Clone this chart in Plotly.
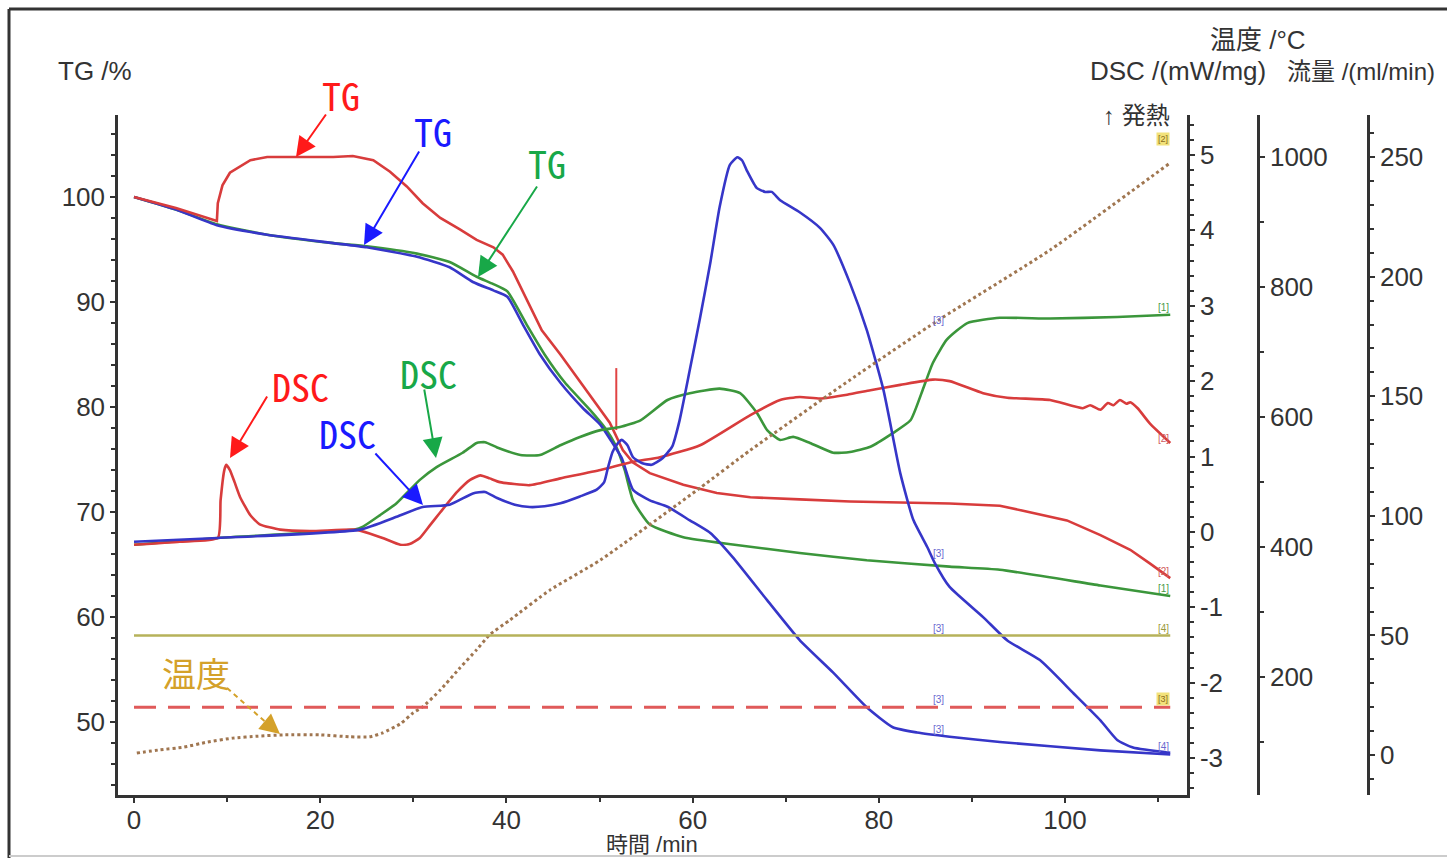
import plotly.graph_objects as go

# ---------------- data ----------------
# TG curves (time /min, TG /%)
tg_red_t = [0, 4.5, 8.9, 9.0, 9.5, 10.3, 12.5, 14.3, 17.8, 21.4, 23.5, 25.7, 27.5, 29.3, 31.0, 32.9, 35.0, 36.8,
            38.6, 39.6, 40.7, 42.2, 43.8, 45.8, 47.9, 49.5, 51.1, 52.5, 53.6, 55.4, 59.0, 62.6, 66.2, 71.5, 76.9,
            82.3, 87.6, 93.0, 97.3, 100.2, 103.8, 107.0, 109.1, 111.3]
tg_red_v = [100, 98.95, 97.7, 99.4, 101.1, 102.3, 103.5, 103.8, 103.8, 103.8, 103.9, 103.5, 102.4, 101.0, 99.4, 98.0,
            96.9, 95.9, 95.2, 94.5, 92.9, 90.2, 87.3, 85.0, 82.4, 80.5, 78.5, 75.9, 74.7, 73.7, 72.6, 71.8, 71.4, 71.2,
            71.0, 70.9, 70.8, 70.6, 69.8, 69.2, 67.8, 66.4, 65.1, 63.7]

tg_blue_t = [0, 4.5, 8.9, 14.3, 21.4, 25.0, 30.4, 33.9, 36.4, 38.6, 40.1, 41.8, 43.6, 45.8, 48.2, 50.1, 51.3, 52.4,
             53.6, 55.4, 57.3, 59.7, 61.9, 64.3, 68.0, 71.5, 75.1, 78.7, 81.5, 84.1, 87.6, 93.0, 103.8, 111.3]
tg_blue_v = [100, 98.8, 97.3, 96.4, 95.6, 95.2, 94.3, 93.3, 91.9, 91.1, 90.5, 87.8, 85.0, 82.3, 79.9, 78.3, 76.7, 75.1,
             72.1, 71.1, 70.5, 69.2, 68.0, 65.7, 61.6, 57.8, 54.7, 51.4, 49.5, 49.0, 48.6, 48.1, 47.3, 46.9]

tg_green_t = [0, 4.5, 8.9, 14.3, 21.4, 25.0, 30.4, 33.9, 36.8, 38.6, 40.1, 42.2, 44.1, 46.3, 49.0, 50.6, 51.7, 52.7,
              53.6, 55.4, 59.0, 64.3, 71.5, 78.7, 87.6, 93.0, 103.8, 111.3]
tg_green_v = [100, 98.8, 97.4, 96.4, 95.6, 95.3, 94.6, 93.8, 92.4, 91.7, 91.0, 87.8, 85.0, 82.3, 79.7, 78.0, 76.4, 74.0,
              71.1, 68.8, 67.6, 66.9, 66.1, 65.4, 64.8, 64.5, 63.0, 62.0]

# DSC curves (time /min, DSC /(mW/mg))
dsc_red_t = [0, 4.9, 9.0, 9.3, 9.7, 9.9, 10.3, 10.8, 11.4, 12.5, 13.5, 15.7, 18.9, 23.7, 25.3, 26.7, 28.6, 29.6, 30.7,
             31.8, 32.9, 34.7, 36.1, 37.2, 38.2, 39.3, 42.5, 45.8, 50.1, 53.6, 56.5, 60.8, 66.2, 69.4, 71.5, 73.7,
             76.6, 79.1, 82.3, 85.8, 87.6, 91.2, 93.8, 98.4, 101.9, 102.7, 103.8, 104.6, 105.2, 105.9, 106.6, 107.0,
             107.8, 109.1, 111.3]
dsc_red_v = [-0.17, -0.13, -0.08, 0.42, 0.82, 0.89, 0.82, 0.66, 0.46, 0.22, 0.10, 0.03, 0.01, 0.03, -0.02, -0.08, -0.17,
             -0.16, -0.08, 0.09, 0.26, 0.53, 0.69, 0.75, 0.71, 0.66, 0.62, 0.71, 0.82, 0.93, 0.99, 1.15, 1.55, 1.75,
             1.79, 1.77, 1.82, 1.88, 1.95, 2.02, 2.00, 1.84, 1.78, 1.75, 1.64, 1.68, 1.62, 1.71, 1.68, 1.75, 1.70,
             1.72, 1.64, 1.44, 1.18]

dsc_green_t = [0, 9.0, 23.7, 24.6, 26.4, 28.2, 30.7, 32.5, 35.3, 36.8, 37.7, 39.0, 41.5, 43.6, 45.8, 47.9, 50.1, 52.2,
               54.4, 57.3, 59.7, 62.9, 65.1, 66.9, 68.0, 69.4, 70.8, 72.6, 75.1, 76.9, 79.1, 81.5, 83.4, 84.7, 85.8,
               87.3, 89.5, 93.0, 98.4, 105.6, 111.3]
dsc_green_v = [-0.17, -0.08, 0.03, 0.07, 0.22, 0.38, 0.69, 0.86, 1.05, 1.18, 1.19, 1.12, 1.02, 1.02, 1.15, 1.26, 1.35,
               1.39, 1.48, 1.75, 1.84, 1.90, 1.84, 1.58, 1.35, 1.22, 1.26, 1.18, 1.05, 1.06, 1.13, 1.31, 1.48, 1.88,
               2.24, 2.55, 2.77, 2.84, 2.83, 2.85, 2.88]

dsc_blue_t = [0, 9.0, 24.3, 28.2, 31.0, 33.9, 36.4, 37.7, 39.0, 40.9, 42.5, 44.1, 45.8, 47.9, 49.7, 50.5, 50.9, 51.4,
              52.0, 52.4, 53.0, 53.6, 54.6, 55.6, 56.7, 57.8, 58.6, 59.7, 60.8, 61.9, 62.9, 64.0, 64.8, 65.3, 65.8,
              66.9, 67.8, 68.5, 69.4, 71.5, 73.7, 75.1, 76.9, 78.7, 80.5, 82.3, 83.7, 85.2, 86.0, 87.6, 91.2, 93.8,
              97.3, 100.9, 103.8, 105.6, 107.3, 111.3]
dsc_blue_v = [-0.13, -0.08, 0.03, 0.20, 0.33, 0.36, 0.51, 0.53, 0.45, 0.36, 0.33, 0.34, 0.38, 0.47, 0.56, 0.66, 0.85,
              1.06, 1.18, 1.22, 1.15, 0.99, 0.91, 0.89, 0.97, 1.13, 1.48, 2.15, 2.84, 3.57, 4.31, 4.87, 4.97, 4.93,
              4.80, 4.56, 4.51, 4.51, 4.40, 4.24, 4.03, 3.81, 3.30, 2.68, 1.88, 0.78, 0.16, -0.20, -0.41, -0.73,
              -1.13, -1.44, -1.70, -2.14, -2.50, -2.76, -2.86, -2.93]

# Temperature (time /min, °C)
temp_t = [0.3, 2.8, 5.3, 7.9, 10.6, 13.3, 16.0, 20.0, 23.2, 25.3, 26.7, 28.6, 30.0, 31.0, 32.9, 35.0, 36.8, 38.2,
          40.4, 44.7, 50.1, 60.8, 66.2, 76.9, 86.4, 98.4, 111.3]
temp_v = [83, 88, 92, 100, 106, 109, 111, 111, 108, 108, 114, 128, 145, 154, 180, 214, 242, 265, 288, 334, 380, 491,
          549, 657, 749, 857, 991]

# Gas flow (time /min, ml/min)
flow_t = [0, 111.3]
flow_purge = [50, 50]
flow_protect = [20, 20]

# event marker (red vertical line) on TG axis
event_t = [51.8, 51.8]
event_tg = [77.8, 83.7]

# axis ticks
x_ticks = [0, 20, 40, 60, 80, 100]
tg_ticks = [50, 60, 70, 80, 90, 100]
dsc_ticks = [-3, -2, -1, 0, 1, 2, 3, 4, 5]
temp_ticks = [200, 400, 600, 800, 1000]
flow_ticks = [0, 50, 100, 150, 200, 250]

# ---------------- layout geometry ----------------
W, H = 1447, 858
ML, MR, MT, MB = 118, 60, 115, 63
PW = W - ML - MR
PH = H - MT - MB


def px(x):
    return (x - ML) / PW


def py(y):
    return (H - MB - y) / PH


RED = '#d83c3c'
BLUE = '#3636c8'
GREEN = '#3b963b'
AXC = '#333333'
TICKFONT = dict(family='Liberation Sans, Arial, sans-serif', size=26, color=AXC)

fig = go.Figure()


def line(t, v, color, yaxis, width=2.6, dash=None, shape='spline'):
    fig.add_trace(go.Scatter(x=t, y=v, mode='lines', yaxis=yaxis,
                             line=dict(color=color, width=width, dash=dash, shape=shape,
                                       smoothing=0.5 if shape == 'spline' else None),
                             hoverinfo='skip', showlegend=False))


# flow lines
line(flow_t, flow_purge, '#b6b25a', 'y4', width=2.5, shape='linear')
line(flow_t, flow_protect, '#e05a5a', 'y4', width=3, dash='22px,12px', shape='linear')
# temperature
line(temp_t, temp_v, '#a07650', 'y3', width=3, dash='dot')
# DSC
line(dsc_green_t, dsc_green_v, GREEN, 'y2')
line(dsc_red_t, dsc_red_v, RED, 'y2')
line(dsc_blue_t, dsc_blue_v, BLUE, 'y2')
# TG
line(tg_green_t, tg_green_v, GREEN, 'y')
line(tg_blue_t, tg_blue_v, BLUE, 'y')
line(tg_red_t, tg_red_v, RED, 'y', shape='linear')
line(event_t, event_tg, '#e04444', 'y', width=2, shape='linear')

common = dict(showline=True, linecolor=AXC, linewidth=2.5, ticks='outside', ticklen=5, tickwidth=2,
              tickcolor=AXC, showgrid=False, zeroline=False, tickfont=TICKFONT)

fig.update_layout(
    width=W, height=H, margin=dict(l=ML, r=MR, t=MT, b=MB),
    paper_bgcolor='white', plot_bgcolor='white', showlegend=False,
    xaxis=dict(domain=[0, px(1187)], range=[-1.72, 113.1], tickvals=x_ticks, anchor='y', ticklabelstandoff=-5,
               minor=dict(dtick=10, tick0=0, ticks='outside', ticklen=4, tickwidth=2, tickcolor=AXC), **common),
    yaxis=dict(range=[43.05, 107.8], tickvals=tg_ticks, side='left',
               minor=dict(dtick=2, tick0=0, ticks='outside', ticklen=4, tickwidth=2, tickcolor=AXC), **common),
    yaxis2=dict(range=[-3.49, 5.53], tickvals=dsc_ticks, ticktext=[str(v) for v in dsc_ticks],
                overlaying='y', side='right', anchor='x',
                minor=dict(dtick=0.2, tick0=0, ticks='outside', ticklen=4, tickwidth=2, tickcolor=AXC), **common),
    yaxis3=dict(range=[18.5, 1064.6], tickvals=temp_ticks, overlaying='y', side='right', anchor='free',
                position=px(1258),
                minor=dict(dtick=100, tick0=0, ticks='outside', ticklen=4, tickwidth=2, tickcolor=AXC), **common),
    yaxis4=dict(range=[-16.7, 267.6], tickvals=flow_ticks, overlaying='y', side='right', anchor='free',
                position=px(1368),
                minor=dict(dtick=10, tick0=0, ticks='outside', ticklen=4, tickwidth=2, tickcolor=AXC), **common),
)

ann = []


def text(s, cx, cy, size=26, color=AXC, family='Liberation Sans, Arial, Noto Sans CJK JP, sans-serif',
         xanchor='center'):
    ann.append(dict(text=s, x=px(cx), y=py(cy), xref='paper', yref='paper', showarrow=False,
                    xanchor=xanchor, yanchor='middle', font=dict(size=size, color=color, family=family)))


def arrow(hx, hy, tx, ty, color, head=2, size=2.0, width=2):
    ann.append(dict(text='', x=px(hx), y=py(hy), xref='paper', yref='paper', showarrow=True,
                    ax=tx - hx, ay=ty - hy, axref='pixel', ayref='pixel', arrowhead=head,
                    arrowsize=size, arrowwidth=width, arrowcolor=color, standoff=0, startstandoff=0))


# headers
text('TG /%', 95, 71)
text('温度 /°C', 1258, 40)
text('DSC /(mW/mg)', 1178, 71)
text('流量 /(ml/min)', 1285, 71, size=24, xanchor='left')
text('↑ 発熱', 1172, 115, size=24, xanchor='right')
text('時間 /min', 652, 844, size=22)

# coloured callouts
LBL = 'Noto Sans Mono CJK JP, Liberation Sans Narrow, sans-serif'
text('TG', 341, 94, size=38, color='#ff1a1a', family=LBL)
text('TG', 433, 130, size=38, color='#1a1aff', family=LBL)
text('TG', 547, 162, size=38, color='#18a848', family=LBL)
text('DSC', 300, 385, size=38, color='#ff1a1a', family=LBL)
text('DSC', 428, 372, size=38, color='#18a848', family=LBL)
text('DSC', 347, 432, size=38, color='#1a1aff', family=LBL)
text('温度', 196, 672, size=34, color='#d4a12a', family='Noto Sans CJK JP, sans-serif')

arrow(296, 157, 327, 113, '#ff1a1a')
arrow(364, 245, 420, 150, '#1a1aff')
arrow(478, 277, 538, 185, '#18a848')
arrow(230, 458, 268, 395, '#ff1a1a')
arrow(436, 458, 424, 388, '#18a848')
arrow(423, 505, 374, 452, '#1a1aff')
arrow(280, 734, 268, 724, '#d4a12a')

# small curve labels
SM = 'Liberation Sans, Arial, sans-serif'
for (cx, cy, s, c) in [(938, 320, '[3]', '#6a6ad0'), (938, 553, '[3]', '#6a6ad0'), (938, 628, '[3]', '#6a6ad0'),
                       (938, 699, '[3]', '#6a6ad0'), (938, 729, '[3]', '#6a6ad0'),
                       (1163, 307, '[1]', '#4a9a4a'), (1163, 438, '[2]', '#d06060'), (1163, 571, '[2]', '#d06060'),
                       (1163, 588, '[1]', '#4a9a4a'), (1163, 628, '[4]', '#9a9a40'), (1163, 746, '[4]', '#6a6ad0')]:
    text(s, cx, cy, size=10, color=c, family=SM)
for (cx, cy, s) in [(1163, 139, '[2]'), (1163, 699, '[3]')]:
    ann.append(dict(text=s, x=px(cx), y=py(cy), xref='paper', yref='paper', showarrow=False, xanchor='center',
                    yanchor='middle', bgcolor='#f2e27a', font=dict(size=9, color='#8a6a20', family=SM)))

fig.update_layout(annotations=ann)

# frame and dashed arrow shaft
shapes = [
    dict(type='line', xref='paper', yref='paper', x0=px(9), x1=px(1447), y0=py(9), y1=py(9),
         line=dict(color=AXC, width=3)),
    dict(type='line', xref='paper', yref='paper', x0=px(9), x1=px(9), y0=py(9), y1=py(858),
         line=dict(color=AXC, width=3)),
    dict(type='line', xref='paper', yref='paper', x0=px(9), x1=px(1447), y0=py(856), y1=py(856),
         line=dict(color='#cccccc', width=2)),
    dict(type='line', xref='paper', yref='paper', x0=px(227), x1=px(270), y0=py(688), y1=py(726),
         line=dict(color='#d4a12a', width=2, dash='5px,4px')),
]
fig.update_layout(shapes=shapes)

fig.write_html('out.html')
